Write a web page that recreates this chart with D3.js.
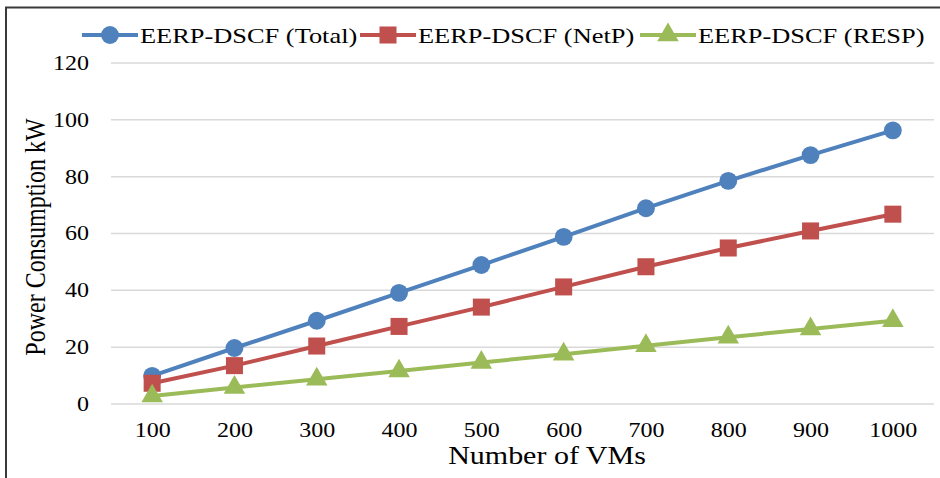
<!DOCTYPE html>
<html>
<head>
<meta charset="utf-8">
<script src="https://cdn.jsdelivr.net/npm/d3@7"></script>
<style>
  body { margin: 0; background: #fff; }
  svg { display: block; font-family: "Liberation Serif", "Times New Roman", serif; }
</style>
</head>
<body>
<div id="chart-wrap"></div>
<script>
const vms = ["100", "200", "300", "400", "500", "600", "700", "800", "900", "1000"];
const total = [9.9, 19.7, 29.3, 39.1, 48.9, 58.8, 68.9, 78.5, 87.6, 96.3];
const netP = [7.3, 13.5, 20.4, 27.3, 34.1, 41.2, 48.3, 54.9, 60.9, 66.8];
const resp = [2.8, 5.8, 8.7, 11.6, 14.6, 17.5, 20.5, 23.5, 26.4, 29.3];
const yTicks = [0, 20, 40, 60, 80, 100, 120];

const series = [
  {name: "EERP-DSCF (Total)", values: total, color: "#4F81BD", shape: d3.symbolCircle, size: 250},
  {name: "EERP-DSCF (NetP)", values: netP, color: "#C0504D", shape: d3.symbolSquare, size: 290},
  {name: "EERP-DSCF (RESP)", values: resp, color: "#9BBB59", shape: d3.symbolTriangle, size: 200}
];

const width = 940;
const height = 478;
const margin = {top: 63, bottom: 74, left: 111, right: 6};
const stretch = 1.2; // text in the original looks widened

const svg = d3.select("#chart-wrap")
  .append("svg")
  .attr("width", width)
  .attr("height", height);

// outer frame (only top and left edges show)
svg.append("path")
  .attr("d", "M6,478 L6,7.5 L940,7.5")
  .attr("fill", "none")
  .attr("stroke", "#3a3a3a")
  .attr("stroke-width", 2);

const x = d3.scalePoint()
  .domain(vms)
  .range([margin.left, width - margin.right])
  .padding(0.5);

const y = d3.scaleLinear()
  .domain([0, 120])
  .range([height - margin.bottom, margin.top]);

// gridlines
svg.append("g")
  .selectAll("line")
  .data(yTicks)
  .join("line")
  .attr("x1", margin.left)
  .attr("x2", width - margin.right)
  .attr("y1", d => y(d))
  .attr("y2", d => y(d))
  .attr("stroke", "#d9d9d9")
  .attr("stroke-width", 1.5);

// Y axis labels
const yAxis = svg.append("g")
  .attr("transform", "translate(" + (margin.left - 22) + ",0)")
  .call(d3.axisLeft(y).tickValues(yTicks).tickSize(0).tickPadding(0));
yAxis.select(".domain").remove();
yAxis.selectAll("text")
  .attr("font-family", "Liberation Serif")
  .attr("font-size", 20)
  .attr("fill", "#000")
  .attr("transform", "scale(" + stretch + ",1)");

// X axis labels
const xAxis = svg.append("g")
  .attr("transform", "translate(0," + (height - margin.bottom + 19) + ")")
  .call(d3.axisBottom(x).tickSize(0).tickPadding(0));
xAxis.select(".domain").remove();
xAxis.selectAll("text")
  .attr("font-family", "Liberation Serif")
  .attr("font-size", 20)
  .attr("fill", "#000")
  .attr("transform", "scale(" + stretch + ",1)");

// axis titles
svg.append("text")
  .attr("transform", "translate(547,464) scale(" + stretch + ",1)")
  .attr("text-anchor", "middle")
  .attr("font-size", 25)
  .text("Number of VMs");

svg.append("text")
  .attr("transform", "translate(45,237) rotate(-90) scale(1," + stretch + ")")
  .attr("text-anchor", "middle")
  .attr("font-size", 24)
  .text("Power Consumption kW");

// lines and markers
const line = d3.line()
  .x((d, i) => x(vms[i]))
  .y(d => y(d));

series.forEach(s => {
  svg.append("path")
    .datum(s.values)
    .attr("fill", "none")
    .attr("stroke", s.color)
    .attr("stroke-width", 4)
    .attr("d", line);
});

series.forEach(s => {
  svg.append("g")
    .selectAll("path")
    .data(s.values)
    .join("path")
    .attr("transform", (d, i) => "translate(" + x(vms[i]) + "," + y(d) + ")")
    .attr("d", d3.symbol().type(s.shape).size(s.size))
    .attr("fill", s.color);
});

// legend
const legendStarts = [82, 360, 640];
series.forEach((s, i) => {
  const g = svg.append("g")
    .attr("transform", "translate(" + legendStarts[i] + ",35)");
  g.append("line")
    .attr("x1", 0).attr("x2", 56)
    .attr("stroke", s.color)
    .attr("stroke-width", 4);
  g.append("path")
    .attr("transform", "translate(28,0)")
    .attr("d", d3.symbol().type(s.shape).size(s.size))
    .attr("fill", s.color);
  g.append("text")
    .attr("transform", "translate(58,7.5) scale(" + stretch + ",1)")
    .attr("font-size", 22)
    .text(s.name);
});
</script>
</body>
</html>
